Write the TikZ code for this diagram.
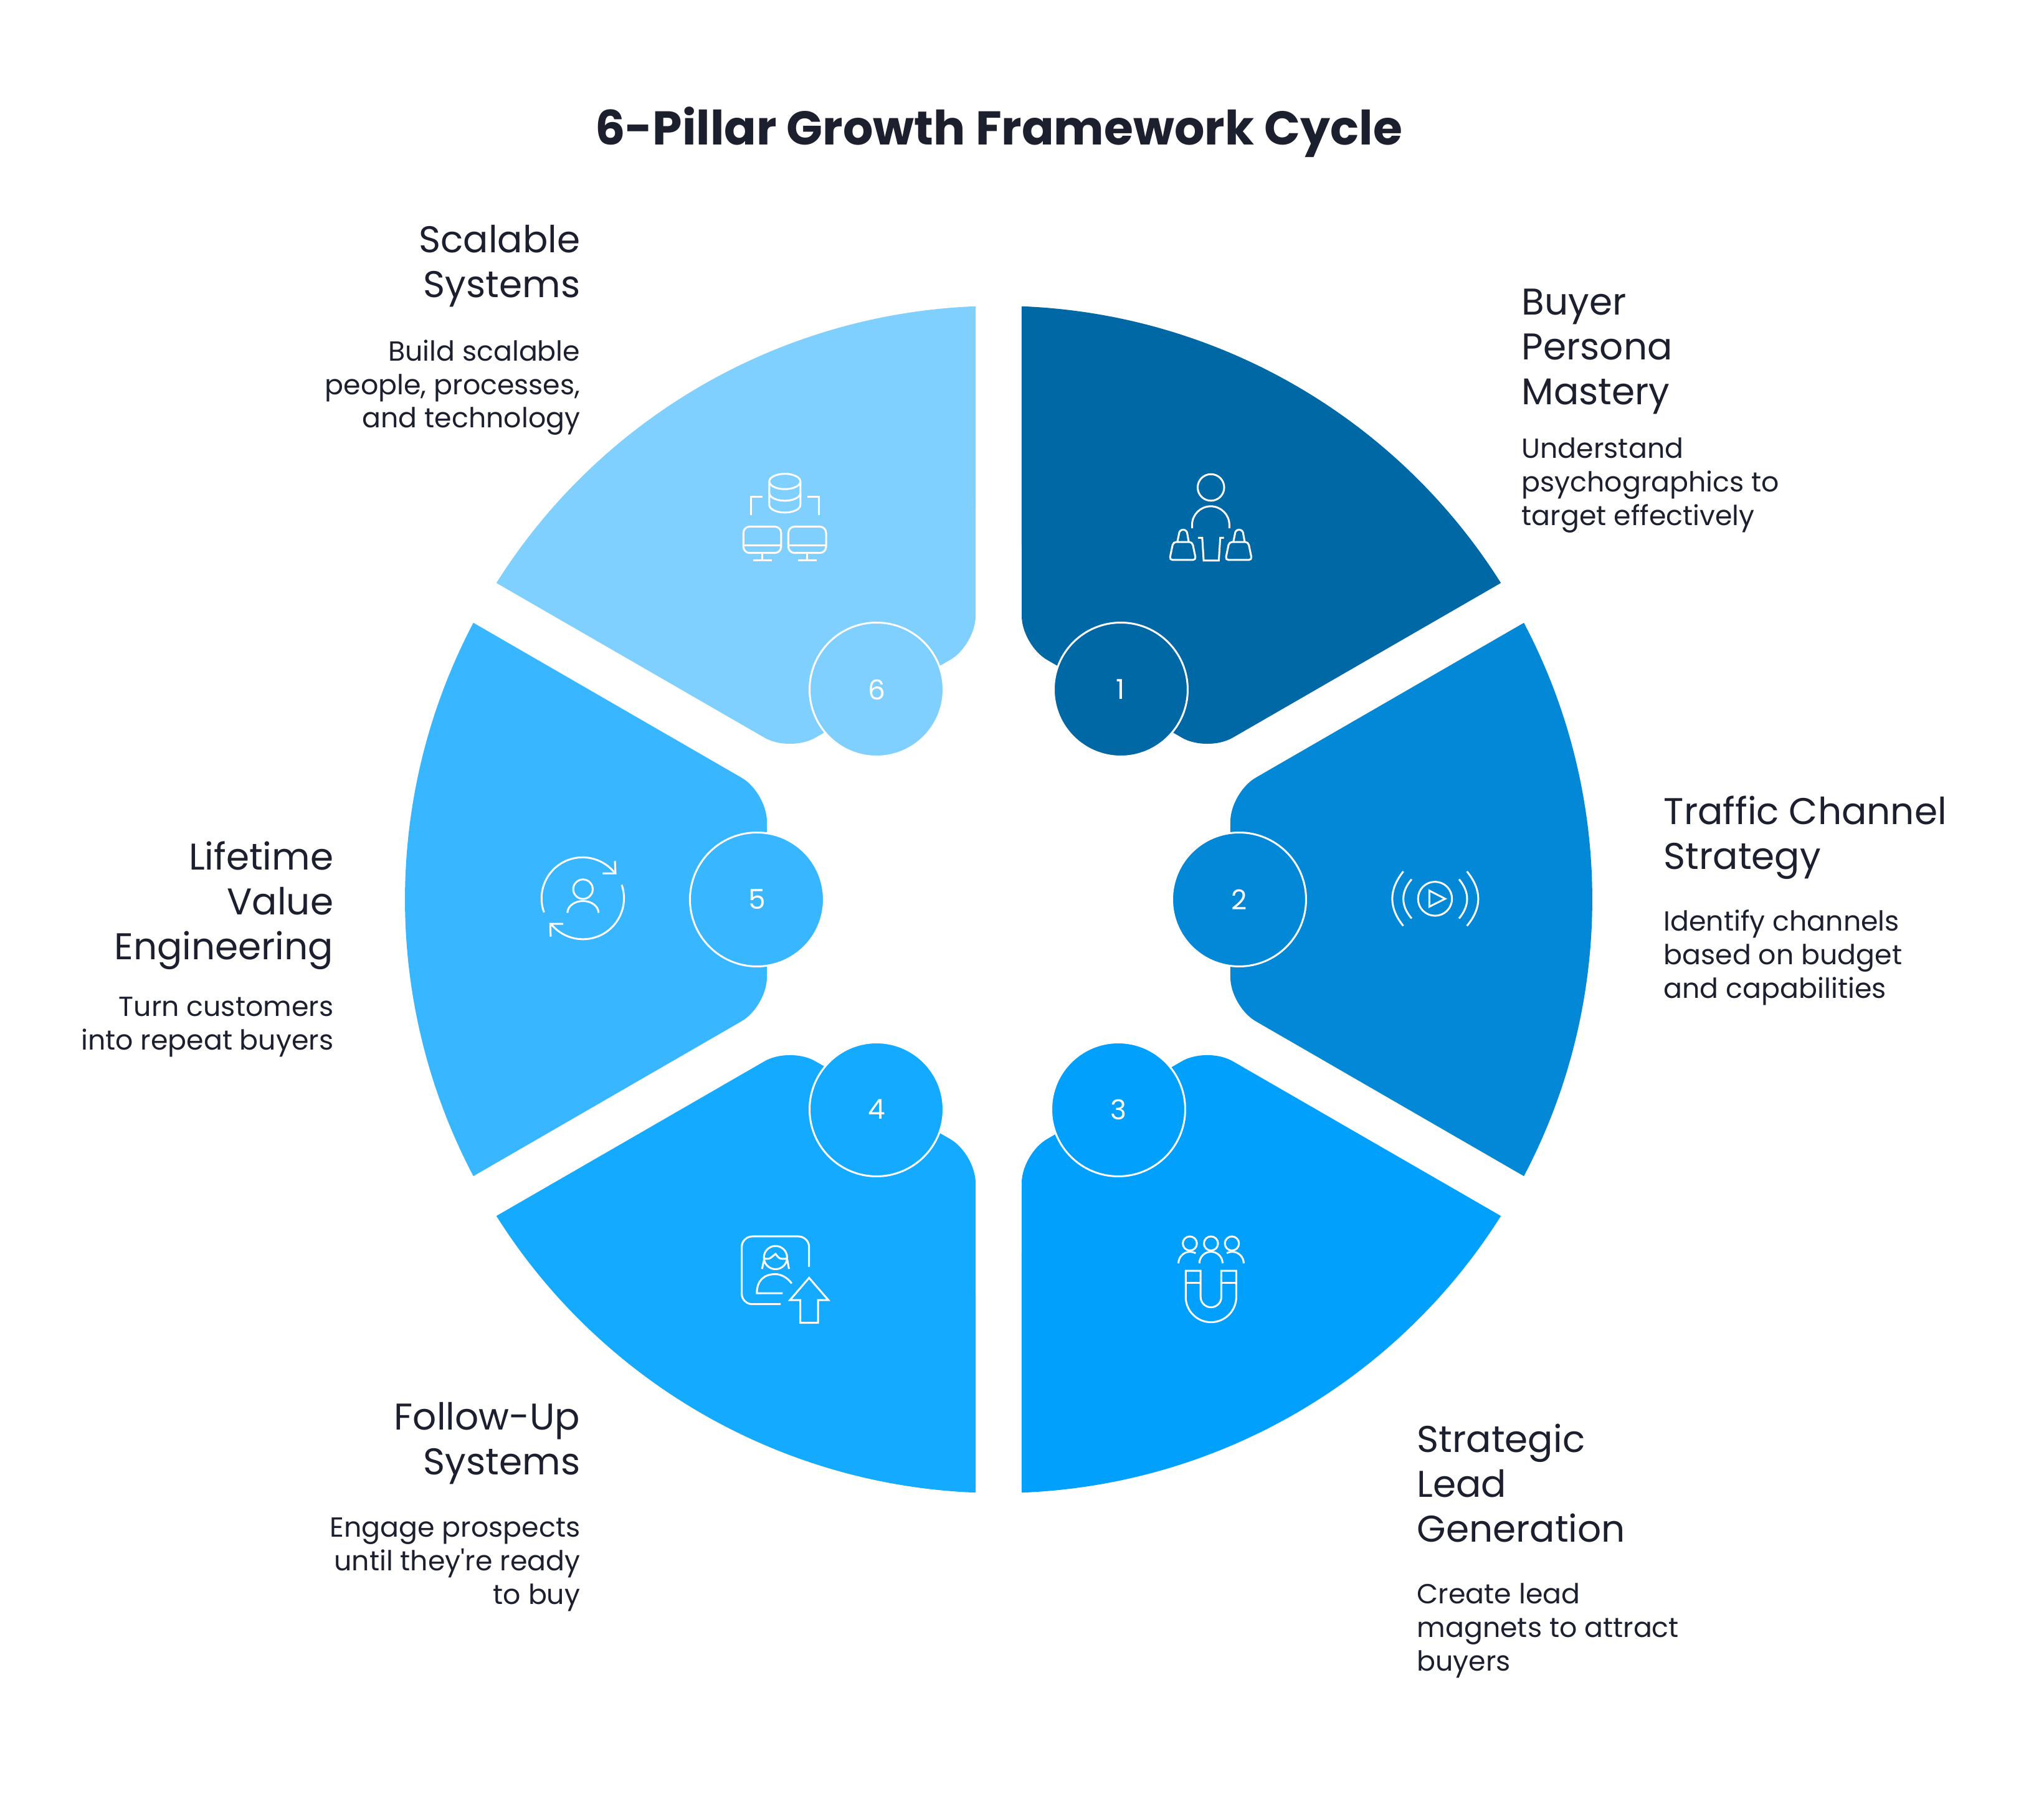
\documentclass[tikz,border=0pt]{standalone}
\usepackage{fontspec}
\setmainfont{Poppins}
\usetikzlibrary{positioning}
\definecolor{inkColor}{HTML}{1B1F2E}
\definecolor{fill1}{HTML}{0068A5}
\definecolor{fill2}{HTML}{0288D7}
\definecolor{fill3}{HTML}{00A0FC}
\definecolor{fill4}{HTML}{14AAFF}
\definecolor{fill5}{HTML}{38B6FF}
\definecolor{fill6}{HTML}{7FCFFF}
\newcommand{\pillar}[2]{\fill [#2,rotate=#1] (27.78:9.53) arc [start angle=27.78,end angle=-27.78,radius=9.53]
  [rounded corners=.47cm] -- (3.72,-1.72) -- (3.72,1.72) [sharp corners] -- cycle;}
\tikzset{
  heading/.style={inner sep=0pt,text=inkColor,execute at begin node=\strut,font=\fontsize{17}{20.5}\selectfont},
  blurb/.style={inner sep=0pt,text=inkColor,execute at begin node=\strut,font=\fontsize{12.6}{15.3}\selectfont},
  numdot/.style={circle,draw=white,line width=.03cm,minimum size=2.15cm,inner sep=0pt,text=white,font=\fontsize{12.5}{15}\selectfont},
  iconat/.style={shift={#1},x=.003333cm,y=-.003333cm,white,line width=.03cm}
}
\begin{document}
\begin{tikzpicture}
      \useasboundingbox (-16.03,-14.65) rectangle (16.78,14.44);
      \pillar{60}{fill1}
      \pillar{0}{fill2}
      \pillar{-60}{fill3}
      \pillar{-120}{fill4}
      \pillar{180}{fill5}
      \pillar{120}{fill6}
      \node [numdot,fill=fill1] (num1) at (1.96,3.37) {1};
      \node [numdot,fill=fill2] (num2) at (3.86,0) {2};
      \node [numdot,fill=fill3] (num3) at (1.92,-3.37) {3};
      \node [numdot,fill=fill4] (num4) at (-1.96,-3.37) {4};
      \node [numdot,fill=fill5] (num5) at (-3.88,0) {5};
      \node [numdot,fill=fill6] (num6) at (-1.96,3.37) {6};
      \node [text=inkColor,font=\fontsize{21.65}{26}\selectfont\bfseries] (title) at (0,12.32) {6-Pillar Growth Framework Cycle};
      \node [heading,anchor=north west,align=left] (head1) at (8.39,9.81) {Buyer\\Persona\\Mastery};
      \node [blurb,anchor=north west,align=left] (desc1) at (8.39,7.42) {Understand\\psychographics to\\target effectively};
      \node [heading,anchor=north west,align=left] (head2) at (10.67,1.67) {Traffic Channel\\Strategy};
      \node [blurb,anchor=north west,align=left] (desc2) at (10.67,-.16) {Identify channels\\based on budget\\and capabilities};
      \node [heading,anchor=north west,align=left] (head3) at (6.71,-8.41) {Strategic\\Lead\\Generation};
      \node [blurb,anchor=north west,align=left] (desc3) at (6.71,-10.97) {Create lead\\magnets to attract\\buyers};
      \node [heading,anchor=north east,align=right] (head4) at (-6.71,-8.07) {Follow-Up\\Systems};
      \node [blurb,anchor=north east,align=right] (desc4) at (-6.71,-9.92) {Engage prospects\\until they\textquotesingle re ready\\to buy};
      \node [heading,anchor=north east,align=right] (head5) at (-10.67,.94) {Lifetime\\Value\\Engineering};
      \node [blurb,anchor=north east,align=right] (desc5) at (-10.67,-1.56) {Turn customers\\into repeat buyers};
      \node [heading,anchor=north east,align=right] (head6) at (-6.71,10.83) {Scalable\\Systems};
      \node [blurb,anchor=north east,align=right] (desc6) at (-6.71,8.99) {Build scalable\\people, processes,\\and technology};
      % person with bags
      \begin{scope}[iconat={(2.37,7.15)}]
        \draw (312,161) circle [radius=64];
        \draw (221,358) -- (221,342) arc [start angle=180,end angle=360,radius=90] -- (401,358);
        \draw (250,404) -- (270,404) -- (277,514) -- (350,514) -- (357,404) -- (375,404);
        \draw [rounded corners=.05cm] (130,424) -- (222,424) -- (240,511) -- (112,511) -- cycle;
        \draw (150,424) -- (158,385) arc [start angle=180,end angle=360,radius=20] -- (205,424);
        \draw [rounded corners=.05cm] (400,424) -- (492,424) -- (510,511) -- (382,511) -- cycle;
        \draw (420,424) -- (428,385) arc [start angle=180,end angle=360,radius=20] -- (475,424);
      \end{scope}
      % play button
      \begin{scope}[iconat={(6.07,.65)}]
        \draw (281,192) circle [radius=82];
        \draw (254,153) -- (330,192) -- (254,230) -- cycle;
        \draw (168,98) .. controls (115,160) and (115,225) .. (168,287);
        \draw (128,60) .. controls (57,150) and (57,235) .. (128,323);
        \draw (397,98) .. controls (449,160) and (449,225) .. (397,287);
        \draw (435,60) .. controls (508,150) and (508,235) .. (435,323);
      \end{scope}
      % magnet
      \begin{scope}[iconat={(2.77,-5.25)}]
        \draw (90,82) circle [radius=34];
        \draw (192,82) circle [radius=34];
        \draw (293,82) circle [radius=34];
        \draw (136,178) arc [start angle=180,end angle=360,radius=56];
        \draw (35,178) arc [start angle=180,end angle=299,radius=56];
        \draw (350,178) arc [start angle=360,end angle=242,radius=56];
        \draw (70,214) -- (70,340) arc [start angle=180,end angle=0,radius=122] -- (314,214) -- (242,214) -- (242,340)
          arc [start angle=0,end angle=180,radius=50] -- (142,214) -- cycle;
        \draw (70,273) -- (142,273);
        \draw (242,273) -- (314,273);
      \end{scope}
      % follow-up contact
      \begin{scope}[iconat={(-4.33,-5.25)}]
        \draw [rounded corners=.17cm] (250,375) -- (62,375) -- (62,48) -- (387,48) -- (387,195);
        \draw (225,150) circle [radius=56];
        \draw (172,155) .. controls (195,158) .. (225,132) .. controls (245,158) .. (280,155);
        \draw (170,160) -- (160,205);
        \draw (282,160) -- (290,205);
        \draw (260,322) -- (135,322) .. controls (135,260) and (170,230) .. (225,230) .. controls (255,230) and (285,250) .. (303,275);
        \draw (387,248) -- (480,355) -- (430,355) -- (430,465) -- (345,465) -- (345,355) -- (295,355) -- cycle;
      \end{scope}
      % repeat buyer
      \begin{scope}[iconat={(-7.53,.85)}]
        \draw (70,318) arc [start angle=160,end angle=322.6,radius=198];
        \draw (412,70) -- (415,130) -- (353,130);
        \draw (445,185) arc [start angle=-19,end angle=142,radius=198];
        \draw (163,373) -- (100,373) -- (102,435);
        \draw (258,206) circle [radius=47];
        \draw (183,320) arc [start angle=180,end angle=360,x radius=75,y radius=57];
      \end{scope}
      % database and screens
      \begin{scope}[iconat={(-4.23,6.95)}]
        \draw (240,72) ellipse [x radius=75,y radius=37];
        \draw (165,72) -- (165,185) arc [start angle=180,end angle=0,x radius=75,y radius=37] -- (315,72);
        \draw (165,128) arc [start angle=180,end angle=0,x radius=75,y radius=37];
        \draw (131,147) -- (77,147) -- (77,236);
        \draw (348,147) -- (403,147) -- (403,236);
        \draw [rounded corners=.1cm] (40,290) rectangle (222,417);
        \draw (40,380) -- (222,380);
        \draw (131,417) -- (131,452);
        \draw (87,452) -- (177,452);
        \draw [rounded corners=.1cm] (257,290) rectangle (439,417);
        \draw (257,380) -- (439,380);
        \draw (348,417) -- (348,452);
        \draw (303,452) -- (393,452);
      \end{scope}
    \end{tikzpicture}
\end{document}
